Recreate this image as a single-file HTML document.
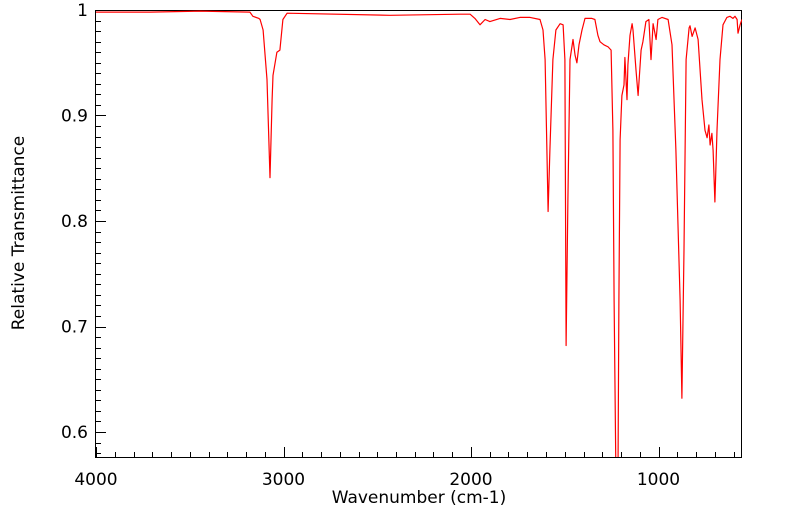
<!DOCTYPE html>
<html><head><meta charset="utf-8">
<style>
body{margin:0;background:#fff;}
svg text{font-family:"DejaVu Sans","Liberation Sans",sans-serif;fill:#000;}
</style></head>
<body>
<svg id="chart" width="799" height="516" xmlns="http://www.w3.org/2000/svg">
<defs><clipPath id="plotclip"><rect x="96" y="10" width="646" height="447"/></clipPath></defs>
<rect x="95.5" y="10.5" width="646" height="447" fill="#fff" stroke="#000" stroke-width="1"/>
<g id="ticks"></g>
<path id="series" clip-path="url(#plotclip)" fill="none" stroke="#ff0000" stroke-width="1.2" stroke-linejoin="round"/>
<text x="419" y="503" font-size="17" text-anchor="middle">Wavenumber (cm-1)</text>
<text transform="translate(24,233) rotate(-90)" font-size="17" text-anchor="middle">Relative Transmittance</text>
</svg>
<script>
const wavenumbers=[4000,3712,3445,3179,3163,3131,3125,3109,3088,3072,3061,3056,3035,3019,3003,2981,2432,2059,2005,1979,1952,1925,1899,1845,1792,1739,1685,1632,1616,1605,1595,1589,1579,1563,1547,1525,1509,1499,1493,1483,1472,1456,1445,1435,1424,1408,1392,1355,1339,1323,1312,1291,1269,1253,1243,1237,1227,1216,1211,1205,1195,1184,1179,1168,1163,1152,1141,1136,1120,1109,1093,1083,1067,1051,1040,1029,1013,1003,981,949,928,907,885,875,864,853,837,832,821,805,789,768,752,741,731,725,715,709,699,688,672,656,635,619,603,592,581,576,565,555];
const transmittance=[0.998,0.998,0.999,0.998,0.994,0.992,0.991,0.981,0.934,0.841,0.915,0.938,0.960,0.962,0.991,0.997,0.995,0.996,0.996,0.992,0.986,0.991,0.989,0.992,0.991,0.993,0.993,0.991,0.981,0.953,0.867,0.809,0.867,0.953,0.981,0.987,0.986,0.953,0.682,0.820,0.953,0.972,0.957,0.950,0.967,0.981,0.992,0.992,0.991,0.976,0.970,0.967,0.965,0.962,0.886,0.725,0.560,0.560,0.725,0.877,0.919,0.929,0.955,0.915,0.948,0.976,0.987,0.981,0.943,0.919,0.962,0.970,0.989,0.991,0.953,0.987,0.972,0.991,0.993,0.991,0.967,0.867,0.725,0.632,0.773,0.953,0.983,0.985,0.975,0.983,0.972,0.915,0.886,0.879,0.891,0.872,0.883,0.867,0.818,0.886,0.953,0.986,0.993,0.994,0.992,0.994,0.991,0.978,0.986,0.991];
const xTicks=[4000,3000,2000,1000];
const xTickLabels=["4000","3000","2000","1000"];
const yTicks=[0.6,0.7,0.8,0.9,1.0];
const yTickLabels=["0.6","0.7","0.8","0.9","1"];
const X0=96,X1=742,Y0=10,Y1=457;
const xMax=4000,xMin=4000-(X1-X0)/0.1875;
const yTop=1.0,yBot=1.0-(Y1-Y0)/1055;
function xs(w){return X0+(xMax-w)/(xMax-xMin)*(X1-X0);}
function ys(v){return Y0+(yTop-v)/(yTop-yBot)*(Y1-Y0);}
const NS="http://www.w3.org/2000/svg";
const svg=document.getElementById('chart');
const tg=document.getElementById('ticks');
function line(x1,y1,x2,y2){const l=document.createElementNS(NS,'line');l.setAttribute('x1',x1);l.setAttribute('y1',y1);l.setAttribute('x2',x2);l.setAttribute('y2',y2);l.setAttribute('stroke','#000');l.setAttribute('stroke-width','1');


tg.appendChild(l);}
for(let w=4000;w>=xMin;w-=100){const x=Math.round(xs(w))+0.5;const major=(w%1000===0);line(x,Y1,x,Y1-(major?10:5));}
for(let i=0;;i++){const v=1-i*0.01;if(v<yBot)break;const y=Math.round(ys(v))+0.5;const major=(i%10===0);line(X0,y,X0+(major?10:5),y);}
xTicks.forEach((w,i)=>{const t=document.createElementNS(NS,'text');t.setAttribute('x',xs(w));t.setAttribute('y',485);t.setAttribute('font-size','17');t.setAttribute('text-anchor','middle');t.textContent=xTickLabels[i];


svg.appendChild(t);});
yTicks.forEach((v,i)=>{const t=document.createElementNS(NS,'text');t.setAttribute('x',88);t.setAttribute('y',ys(v)+6);t.setAttribute('font-size','17');t.setAttribute('text-anchor','end');t.textContent=yTickLabels[i];


svg.appendChild(t);});
let d='';wavenumbers.forEach((w,i)=>{d+=(i?'L':'M')+xs(w).toFixed(1)+' '+ys(transmittance[i]).toFixed(1);});
document.getElementById('series').setAttribute('d',d);
</script>
</body></html>
